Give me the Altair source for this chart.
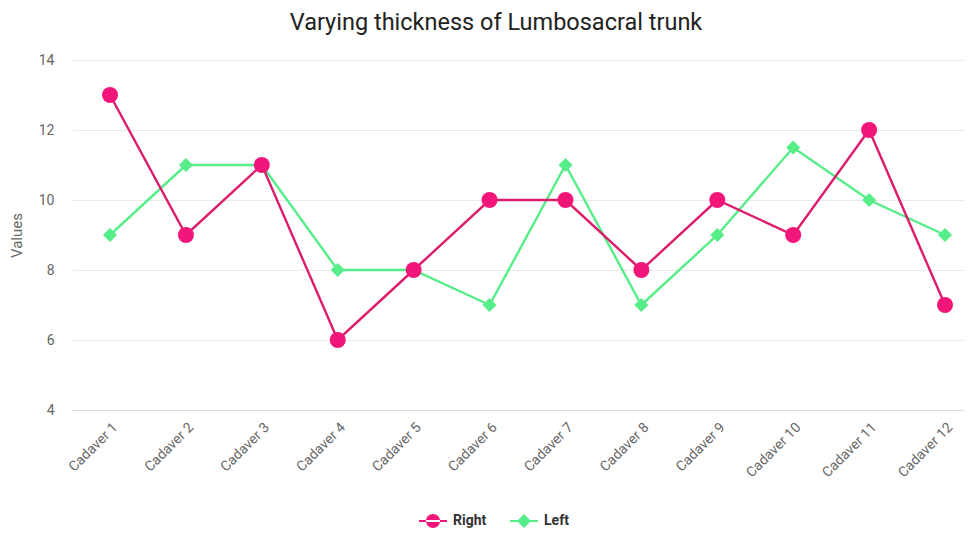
import altair as alt
import pandas as pd

cadavers = [f"Cadaver {i}" for i in range(1, 13)]
right = [13, 9, 11, 6, 8, 10, 10, 8, 10, 9, 12, 7]
left = [9, 11, 11, 8, 8, 7, 11, 7, 9, 11.5, 10, 9]
series = ["Right", "Left"]

rows = []
for c, r, l in zip(cadavers, right, left):
    rows.append({"Cadaver": c, "Series": "Right", "Value": r})
    rows.append({"Cadaver": c, "Series": "Left", "Value": l})
df = pd.DataFrame(rows)

FONT = "Roboto"
pink_pt = "#F2157A"
pink_ln = "#DC1C6C"
green = "#55EE88"

x = alt.X("Cadaver:N", sort=cadavers, title=None,
          scale=alt.Scale(type="point", padding=0.3755, align=0.667),
          axis=alt.Axis(labelAngle=-45, labelColor="#666666", labelFontSize=14,
                        labelFont=FONT, ticks=False, domainColor="#d3dde0",
                        labelPadding=10, grid=False))
y = alt.Y("Value:Q", title="Values", scale=alt.Scale(domain=[4, 14]),
          axis=alt.Axis(values=[4, 6, 8, 10, 12, 14], labelColor="#666666",
                        labelFontSize=14, labelFont=FONT, ticks=False, domain=False,
                        gridColor="#e8eaeb", labelPadding=18, titleColor="#666666",
                        titleFontSize=15, titleFontWeight="normal", titleFont=FONT,
                        titlePadding=14))

circle_leg = "M -1 0 A 1 1 0 1 0 1 0 A 1 1 0 1 0 -1 0 Z M -2 -0.14 L 2 -0.14 L 2 0.14 L -2 0.14 Z"
diamond_leg = "M 0 -1 L 1 0 L 0 1 L -1 0 Z M -2 -0.14 L 2 -0.14 L 2 0.14 L -2 0.14 Z"

base = alt.Chart(df)
right_base = base.transform_filter(alt.datum.Series == "Right")
left_base = base.transform_filter(alt.datum.Series == "Left")

line_r = right_base.mark_line(strokeWidth=2.4, color=pink_ln).encode(x=x, y=y)
line_l = left_base.mark_line(strokeWidth=2.4, color=green).encode(x=x, y=y)

circles = right_base.mark_point(
    filled=True, opacity=1, shape="circle", size=256, color=pink_pt
).encode(x=x, y=y)

diamonds = left_base.mark_point(
    filled=True, opacity=1, shape="diamond", size=196, color=green
).encode(x=x, y=y)

leg = alt.Legend(
    title=None, orient="none", direction="horizontal",
    legendX=354, legendY=454, labelFontSize=14,
    labelFontWeight="bold", labelColor="#333333", labelFont=FONT,
    symbolSize=196, columnPadding=23, labelOffset=13, labelLimit=200,
    symbolOpacity=1, symbolStrokeWidth=0)

legend_layer = base.mark_point(filled=True, opacity=0, size=196).encode(
    x=x, y=y,
    color=alt.Color("Series:N", sort=series,
                    scale=alt.Scale(domain=series, range=[pink_pt, green]),
                    legend=leg),
    shape=alt.Shape("Series:N", sort=series,
                    scale=alt.Scale(domain=series, range=[circle_leg, diamond_leg]),
                    legend=leg),
)

chart = alt.layer(line_l, line_r, legend_layer, diamonds, circles).properties(
    width=892, height=350,
    autosize=alt.AutoSizeParams(type="none"),
    padding={"left": 64, "top": 52, "right": 0, "bottom": 124},
    title=alt.TitleParams("Varying thickness of Lumbosacral trunk", fontSize=23.5,
                          fontWeight="normal", font=FONT, color="#222222",
                          anchor="middle", offset=19, dx=-22),
).configure_view(stroke=None)

chart.save("out.html", embed_options={"renderer": "svg", "actions": False})
